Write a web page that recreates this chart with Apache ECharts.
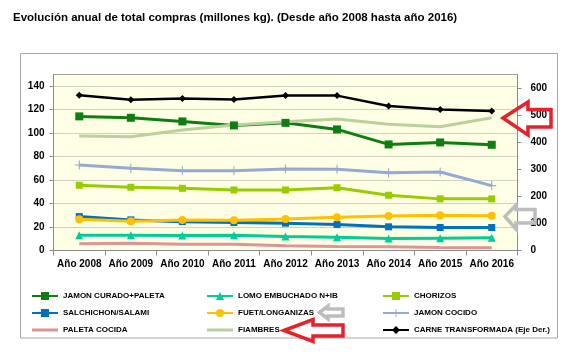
<!DOCTYPE html>
<html>
<head>
<meta charset="utf-8">
<script src="https://cdn.jsdelivr.net/npm/echarts@6/dist/echarts.min.js"></script>
<style>
html,body{margin:0;padding:0;background:#fff;}
#c{width:584px;height:364px;}
</style>
</head>
<body>
<div id="c"></div>
<script>
const categories = ['Año 2008','Año 2009','Año 2010','Año 2011','Año 2012','Año 2013','Año 2014','Año 2015','Año 2016'];
const jamonCurado = [114.3,113.1,110.0,106.6,108.8,103.2,90.4,92.1,90.1];
const lomoEmbuchado = [13.0,13.0,12.7,13.0,11.9,11.3,10.2,10.5,10.8];
const chorizos = [55.6,53.9,53.0,51.6,51.6,53.5,47.1,44.0,44.0];
const salchichon = [28.9,26.1,24.6,23.8,23.3,22.1,20.2,19.6,19.6];
const fuet = [26.7,25.0,26.1,25.8,26.9,28.3,29.5,30.0,29.7];
const jamonCocido = [72.8,70.0,68.0,68.0,69.5,69.2,66.3,66.9,55.3];
const paletaCocida = [5.7,6.2,5.4,5.4,4.0,3.4,3.1,2.5,2.3];
const fiambres = [97.5,96.9,102.7,106.9,109.7,112.0,107.5,105.5,113.1];
const carneTransformada = [573,557,561,558,572,572,534,521,515];
const leftTicks = {min:0, max:150, interval:20};
const rightTicks = {min:0, max:650, interval:100};

const FONT = 'Liberation Sans';
const chart = echarts.init(document.getElementById('c'));

function ser(name, data, color, symbol, size, width, yIndex, extra){
  return Object.assign({
    name: name, type:'line', data: data, yAxisIndex: yIndex||0,
    symbol: symbol, symbolSize: size, showSymbol: symbol!=='none',
    lineStyle:{color: color, width: width},
    itemStyle:{color: color, borderWidth:0},
    emphasis:{disabled:true}, animation:false
  }, extra||{});
}
const plusPath = 'path://M4.4,0h1.2v4.4h4.4v1.2h-4.4v4.4h-1.2v-4.4h-4.4v-1.2h4.4z';
const lineOnlyIcon = 'path://M0,0h26v0.05h-26z M0,3.5h26v3h-26z M0,9.95h26v0.05h-26z';

const legendText = {fontFamily: FONT, fontSize: 8, fontWeight:'bold', color:'#000', lineHeight:10};
function legend(names, left){
  return {
    data: names, orient:'vertical', left: left, top: 291,
    itemWidth: 26, itemHeight: 10, itemGap: 7, padding:0,
    textStyle: legendText, selectedMode:false
  };
}

const arrowStyleRed = {fill:'rgba(255,255,255,0)', stroke:'#E5212B', lineWidth:3.5, lineJoin:'miter'};
const arrowStyleGray = {fill:'rgba(255,255,255,0)', stroke:'#BDBDBD', lineWidth:3.5, lineJoin:'miter'};

chart.setOption({
  backgroundColor:'#fff',
  animation:false,
  title:{
    text:'Evolución anual de total compras (millones kg). (Desde año 2008 hasta año 2016)',
    left: 13, top: 12, padding:0,
    textStyle:{fontFamily: FONT, fontSize: 11.5, fontWeight:'bold', color:'#000'}
  },
  grid:{left:53.5, right:66.5, top:74.5, bottom:113.5, show:true, backgroundColor:'#FFFFE5', borderColor:'#A0A0A0', borderWidth:1},
  xAxis:{
    type:'category', data: categories, boundaryGap:true,
    axisLine:{lineStyle:{color:'#8C8C8C'}},
    axisTick:{show:true, alignWithLabel:false, length:5, lineStyle:{color:'#8C8C8C'}},
    axisLabel:{fontFamily: FONT, fontSize:10, fontWeight:'bold', color:'#000', margin:9, interval:0},
    splitLine:{show:false}
  },
  yAxis:[{
    type:'value', min:leftTicks.min, max:leftTicks.max, interval:leftTicks.interval, position:'left',
    axisLine:{show:true, lineStyle:{color:'#8C8C8C'}},
    axisTick:{show:true, length:4, lineStyle:{color:'#8C8C8C'}},
    axisLabel:{fontFamily: FONT, fontSize:10, fontWeight:'bold', color:'#000', margin:9, showMaxLabel:false},
    splitLine:{show:true, lineStyle:{color:'#A0A0A0', type:[1,1], width:1}}
  },{
    type:'value', min:rightTicks.min, max:rightTicks.max, interval:rightTicks.interval, position:'right',
    axisLine:{show:true, lineStyle:{color:'#8C8C8C'}},
    axisTick:{show:true, length:4, lineStyle:{color:'#8C8C8C'}},
    axisLabel:{fontFamily: FONT, fontSize:10, fontWeight:'bold', color:'#000', margin:13, showMaxLabel:false},
    splitLine:{show:false}
  }],
  legend:[
    legend(['JAMON CURADO+PALETA','SALCHICHON/SALAMI',{name:'PALETA COCIDA', icon: lineOnlyIcon}], 31),
    legend(['LOMO EMBUCHADO N+IB','FUET/LONGANIZAS',{name:'FIAMBRES', icon: lineOnlyIcon}], 206),
    legend(['CHORIZOS','JAMON COCIDO','CARNE TRANSFORMADA (Eje Der.)'], 382)
  ],
  series:[
    ser('JAMON CURADO+PALETA', jamonCurado, '#0E7E12', 'rect', 8, 3),
    ser('LOMO EMBUCHADO N+IB', lomoEmbuchado, '#00CC99', 'triangle', 8, 3),
    ser('CHORIZOS', chorizos, '#99CC00', 'rect', 7, 3),
    ser('SALCHICHON/SALAMI', salchichon, '#0070C0', 'rect', 7, 3),
    ser('FUET/LONGANIZAS', fuet, '#FFC000', 'circle', 8, 3),
    ser('JAMON COCIDO', jamonCocido, '#95AAD3', plusPath, 9, 3),
    ser('PALETA COCIDA', paletaCocida, '#D99694', 'none', 0, 3),
    ser('FIAMBRES', fiambres, '#BCD09C', 'none', 0, 3),
    ser('CARNE TRANSFORMADA (Eje Der.)', carneTransformada, '#000000', 'diamond', 7, 2.5, 1)
  ],
  graphic:[
    {type:'rect', z:-1, silent:true, shape:{x:20.5, y:53.5, width:537, height:284.5}, style:{fill:'none', stroke:'#A6A6A6', lineWidth:1}},
    {type:'polygon', z:100, silent:true, shape:{points:[[503,118],[528,102],[528,109.5],[551,109.5],[551,127],[528,127],[528,135]]}, style:arrowStyleRed},
    {type:'polygon', z:100, silent:true, shape:{points:[[505,216.5],[516,205],[516,209.5],[535,209.5],[535,223],[516,223],[516,229]]}, style:arrowStyleGray},
    {type:'polygon', z:100, silent:true, shape:{points:[[319.5,312.5],[328,306],[328,309],[343,309],[343,316],[328,316],[328,319]]}, style:arrowStyleGray},
    {type:'polygon', z:100, silent:true, shape:{points:[[284,330.5],[313,319.5],[313,325],[343,325],[343,336],[313,336],[313,341.5]]}, style:arrowStyleRed}
  ]
});
</script>
</body>
</html>
